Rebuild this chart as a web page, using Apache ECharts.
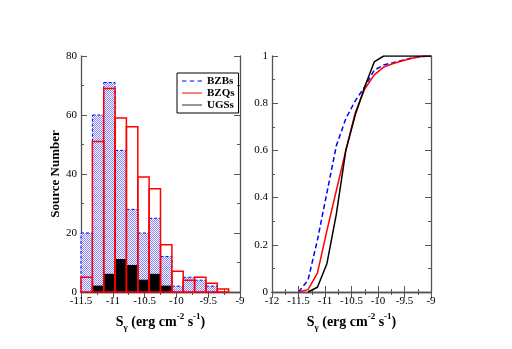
<!DOCTYPE html>
<html>
<head>
<meta charset="utf-8">
<script src="https://cdn.jsdelivr.net/npm/echarts@6/dist/echarts.min.js"></script>
<style>
html, body { margin: 0; padding: 0; background: #fff; }
#main { width: 512px; height: 349px; }
</style>
</head>
<body>
<div id="main"></div>
<script>
// bin edges of the histogram (14 bins from -11.5 to -9)
var binEdges = [-11.5, -11.321, -11.143, -10.964, -10.786, -10.607, -10.429, -10.25,
                -10.071, -9.893, -9.714, -9.536, -9.357, -9.179, -9.0];
var bzbCounts = [20, 60, 71, 48, 28, 20, 25, 12, 2, 5, 4, 2, 0, 0];
var bzqCounts = [5, 51, 69, 59, 56, 39, 35, 16, 7, 4, 5, 3, 1, 0];
var ugsCounts = [0, 2, 6, 11, 9, 4, 6, 2, 0, 0, 0, 0, 0, 0];

// cumulative distributions (right panel), read at the bin edges
var cdfX   = [-11.5, -11.321, -11.143, -10.964, -10.786, -10.607, -10.429, -10.25,
              -10.071, -9.893, -9.714, -9.536, -9.357, -9.179, -9.0];
var bzbCdf = [0, 0.05, 0.22, 0.42, 0.62, 0.735, 0.81, 0.87, 0.94, 0.962, 0.972, 0.982, 0.992, 0.998, 1];
var bzqCdf = [0, 0.01, 0.08, 0.26, 0.43, 0.6, 0.76, 0.86, 0.92, 0.953, 0.968, 0.98, 0.99, 0.998, 1];
var ugsCdf = [null, 0, 0.02, 0.12, 0.33, 0.6, 0.75, 0.87, 0.975, 1, 1, 1, 1, 1, 1];

var xTicksLeft = [-11.5, -9, 0.5];   // min, max, step
var xTicksRight = [-12, -9, 0.5];

var serif = 'Liberation Serif';

// dotted fill for the BZB bars
var pat = document.createElement('canvas');
pat.width = 2; pat.height = 2;
var pc = pat.getContext('2d');
pc.fillStyle = '#ffffff'; pc.fillRect(0, 0, 2, 2);
pc.fillStyle = '#8484ff'; pc.fillRect(0, 0, 1, 1); pc.fillRect(1, 1, 1, 1);

var myChart = echarts.init(document.getElementById('main'));

function histSeries(name, counts, style, z) {
    return {
        type: 'custom', name: name, xAxisIndex: 0, yAxisIndex: 0, z: z,
        data: counts.map(function (v, i) { return [binEdges[i], binEdges[i + 1], v]; }),
        encode: { x: [0, 1], y: 2 },
        renderItem: function (params, api) {
            if (api.value(2) <= 0) return;
            var p0 = api.coord([api.value(0), 0]);
            var p1 = api.coord([api.value(1), api.value(2)]);
            return {
                type: 'rect',
                shape: { x: p0[0], y: p1[1], width: p1[0] - p0[0], height: p0[1] - p1[1] },
                style: style
            };
        }
    };
}

function lineSeries(name, ys, color, dash) {
    var pts = [];
    cdfX.forEach(function (x, i) { if (ys[i] != null) pts.push([x, ys[i]]); });
    return {
        type: 'line', name: name, xAxisIndex: 2, yAxisIndex: 2,
        data: pts, symbol: 'none', z: 3,
        itemStyle: { color: color },
        lineStyle: { color: color, width: 1.5, type: dash ? [5, 3] : 'solid' }
    };
}

var frame = { show: true, lineStyle: { color: '#555', width: 1.3 } };
var tick = { show: true, inside: true, length: 6, lineStyle: { color: '#555' } };
var minor = { show: true, splitNumber: 2, length: 3, lineStyle: { color: '#555' } };
var lbl = { fontFamily: serif, fontSize: 11, color: '#000' };
var xName = '{b|S}{sub|γ}{b| (erg cm}{sup|-2}{b| s}{sup|-1}{b|)}';
var xRich = {
    b: { fontFamily: serif, fontSize: 14, fontWeight: 'bold', color: '#000', lineHeight: 20 },
    sup: { fontFamily: serif, fontSize: 9, fontWeight: 'bold', color: '#000', verticalAlign: 'top', lineHeight: 20 },
    sub: { fontFamily: serif, fontSize: 9, fontWeight: 'bold', color: '#000', verticalAlign: 'bottom', lineHeight: 16 }
};

function xAx(grid, r, pos, main) {
    return {
        type: 'value', gridIndex: grid, position: pos, min: r[0], max: r[1], interval: r[2],
        axisLine: frame, axisTick: tick, minorTick: minor, splitLine: { show: false },
        axisLabel: main ? Object.assign({ margin: 4 }, lbl) : { show: false },
        name: main ? xName : '', nameLocation: 'middle', nameGap: 19,
        nameTextStyle: { rich: xRich }
    };
}
function yAx(grid, max, step, pos, main, name) {
    return {
        type: 'value', gridIndex: grid, position: pos, min: 0, max: max, interval: step,
        axisLine: frame, axisTick: tick, minorTick: minor, splitLine: { show: false },
        axisLabel: main ? Object.assign({ margin: 4 }, lbl) : { show: false },
        name: name || '', nameLocation: 'middle', nameGap: 16,
        nameTextStyle: { fontFamily: serif, fontSize: 13, fontWeight: 'bold', color: '#000' }
    };
}

var option = {
    animation: false,
    grid: [
        { left: 81, top: 56, width: 159, height: 236 },
        { left: 272, top: 56, width: 159, height: 236 }
    ],
    xAxis: [
        xAx(0, xTicksLeft, 'bottom', true),
        xAx(0, xTicksLeft, 'top', false),
        xAx(1, xTicksRight, 'bottom', true),
        xAx(1, xTicksRight, 'top', false)
    ],
    yAxis: [
        yAx(0, 80, 20, 'left', true, 'Source Number'),
        yAx(0, 80, 20, 'right', false),
        yAx(1, 1, 0.2, 'left', true),
        yAx(1, 1, 0.2, 'right', false)
    ],
    legend: {
        left: 177, top: 73, orient: 'vertical', itemGap: 0,
        itemWidth: 20, itemHeight: 2, padding: [2, 4, 2, 5],
        borderColor: '#000', borderWidth: 1,
        textStyle: { fontFamily: serif, fontSize: 11, fontWeight: 'bold', color: '#000', lineHeight: 12 },
        data: [
            { name: 'BZBs', icon: 'path://M0,0h4v1h-4zM7,0h4v1h-4zM14,0h4v1h-4z', itemStyle: { color: '#0000ff', borderWidth: 0 } },
            { name: 'BZQs', icon: 'path://M0,0h20v1h-20z', itemStyle: { color: '#ff0000', borderWidth: 0 } },
            { name: 'UGSs', icon: 'path://M0,0h20v1h-20z', itemStyle: { color: '#333', borderWidth: 0 } }
        ]
    },
    series: [
        histSeries('BZBs', bzbCounts, { fill: { image: pat, repeat: 'repeat' }, stroke: '#0000ff', lineWidth: 1, lineDash: [3, 2] }, 2),
        histSeries('UGSs', ugsCounts, { fill: '#000', stroke: '#000', lineWidth: 1 }, 3),
        histSeries('BZQs', bzqCounts, { fill: 'none', stroke: '#ff0000', lineWidth: 1.5 }, 4),
        lineSeries('BZBs', bzbCdf, '#0000ff', true),
        lineSeries('BZQs', bzqCdf, '#ff0000', false),
        lineSeries('UGSs', ugsCdf, '#000000', false)
    ]
};
myChart.setOption(option);
</script>
</body>
</html>
